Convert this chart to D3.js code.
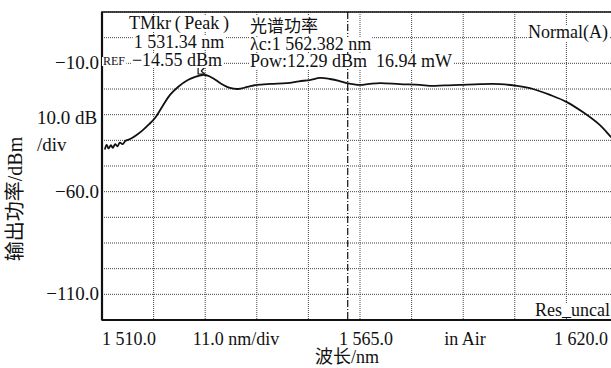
<!DOCTYPE html>
<html>
<head>
<meta charset="utf-8">
<script src="https://d3js.org/d3.v7.min.js"></script>
<style>
  body { margin: 0; background: #fff; }
  text { font-family: "Liberation Serif", "Times New Roman", serif; fill: #111; }
  .grid line { stroke: #444; stroke-width: 1; stroke-dasharray: 1,1; }
  .cjk { font-family: "Noto Sans CJK SC", sans-serif; }
</style>
</head>
<body>
<script>
// spectrum trace (wavelength nm, power dBm)
var wavelength = [1510.6, 1511.0, 1511.4, 1511.9, 1512.3, 1512.8, 1513.3, 1513.8, 1514.4, 1515.0,
  1516.0, 1517.3, 1518.7, 1520.0, 1521.3, 1522.8, 1524.5, 1526.2, 1528.3, 1530.0, 1531.34,
  1532.4, 1534.0, 1535.2, 1537.3, 1539.0, 1541.0, 1543.0, 1546.0, 1549.4, 1552.0, 1554.3,
  1556.5, 1558.6, 1560.5, 1562.2, 1565.0, 1567.0, 1569.3, 1573.5, 1577.8, 1579.9, 1583.0,
  1586.3, 1590.6, 1594.8, 1598.5, 1601.9, 1605.5, 1609.1, 1612.5, 1616.1, 1618.5, 1620.0];
var power = [-43.6, -41.8, -43.2, -41.9, -42.9, -41.5, -42.3, -40.9, -41.5, -40.2,
  -39.5, -38.0, -36.0, -33.8, -31.3, -27.0, -22.3, -19.2, -16.5, -15.2, -14.55,
  -14.7, -16.2, -17.7, -19.6, -20.0, -19.2, -18.4, -18.0, -17.7, -17.0, -16.5,
  -15.7, -16.1, -16.8, -17.7, -18.4, -18.0, -17.7, -18.1, -18.4, -18.8, -18.6,
  -18.4, -18.1, -18.1, -18.8, -20.0, -22.3, -25.1, -29.0, -34.0, -38.7, -41.5];

var xTicks = [1510, 1565, 1620];
var xTickLabels = ["1 510.0", "1 565.0", "1 620.0"];
var yTicks = [-10, -60, -100];
var yTickLabels = ["\u221210.0", "\u221260.0", "\u2212110.0"];

var peakWl = 1531.34, peakPow = -14.55, centerWl = 1562.382;

var W = 611, H = 368;
var margin = { top: 12, left: 102 };
var width = 516, height = 308;

var svg = d3.select("body").append("svg")
    .attr("width", W)
    .attr("height", H);

svg.append("rect").attr("width", W).attr("height", H).attr("fill", "#fff");

var g = svg.append("g")
    .attr("transform", "translate(" + margin.left + "," + margin.top + ")");

var x = d3.scaleLinear().domain([1510, 1620]).range([0, width]);
var y = d3.scaleLinear().domain([10, -110]).range([0, height]);

// grid
var grid = g.append("g").attr("class", "grid");
grid.selectAll(".vx")
    .data(d3.range(0, 11).map(function(i) { return 1510 + i * 11; }))
    .enter().append("line")
    .attr("x1", function(d) { return x(d); })
    .attr("x2", function(d) { return x(d); })
    .attr("y1", 0).attr("y2", height);
grid.selectAll(".hy")
    .data(d3.range(0, 13).map(function(i) { return 10 - i * 10; }))
    .enter().append("line")
    .attr("x1", 0).attr("x2", width)
    .attr("y1", function(d) { return y(d); })
    .attr("y2", function(d) { return y(d); });

// centre wavelength dash-dot line
g.append("line")
    .attr("x1", x(centerWl)).attr("x2", x(centerWl))
    .attr("y1", 0).attr("y2", height)
    .attr("stroke", "#111")
    .attr("stroke-width", 1.2)
    .attr("stroke-dasharray", "7,2,1,2");

// frame
g.append("rect")
    .attr("width", width).attr("height", height)
    .attr("fill", "none").attr("stroke", "#111").attr("stroke-width", 1.5);
g.append("line").attr("x1", 0).attr("x2", 0).attr("y1", 0).attr("y2", height)
    .attr("stroke", "#111").attr("stroke-width", 2.2);
g.append("line").attr("x1", 0).attr("x2", width).attr("y1", height).attr("y2", height)
    .attr("stroke", "#111").attr("stroke-width", 2.2);

// trace
var data = wavelength.map(function(w, i) { return { w: w, p: power[i] }; });
var line = d3.line()
    .x(function(d) { return x(d.w); })
    .y(function(d) { return y(d.p); })
    .curve(d3.curveCatmullRom);
g.append("path")
    .datum(data)
    .attr("fill", "none")
    .attr("stroke", "#111")
    .attr("stroke-width", 1.8)
    .attr("d", line);

// peak marker
var px = x(peakWl), py = y(peakPow);
g.append("path")
    .attr("d", "M" + (px - 4) + "," + (py - 9) + "V" + (py - 1) + "H" + (px + 1) +
        "M" + (px - 1) + "," + (py - 4) + "L" + (px + 6) + "," + (py - 11) +
        "M" + (px - 1) + "," + (py - 4) + "L" + (px + 5) + "," + (py + 1))
    .attr("fill", "none").attr("stroke", "#111").attr("stroke-width", 1.2);

// helper: text on a white box
function boxed(parent, tx, ty, str, anchor, size, cls) {
    var t = parent.append("text")
        .attr("x", tx).attr("y", ty)
        .attr("text-anchor", anchor || "start")
        .style("font-size", (size || 18) + "px")
        .style("white-space", "pre")
        .text(str);
    if (cls) t.attr("class", cls);
    var b = t.node().getBBox();
    parent.insert("rect", function() { return t.node(); })
        .attr("x", b.x - 1).attr("y", b.y + 3)
        .attr("width", b.width + 2).attr("height", b.height - 5)
        .attr("fill", "#fff");
    return t;
}

// marker readout
boxed(svg, 179, 29, "TMkr\u2009(\u2009Peak\u2009)", "middle", 18);
boxed(svg, 179, 48, "1 531.34 nm", "middle", 18);
boxed(svg, 177, 66, "\u221214.55 dBm", "middle", 18);
boxed(svg, 103, 65, "REF", "start", 12);

boxed(svg, 250, 32, "\u5149\u8c31\u529f\u7387", "start", 17, "cjk");
boxed(svg, 250, 50, "\u03bbc:1 562.382 nm", "start", 18);
boxed(svg, 250, 67, "Pow:12.29 dBm\u00a0\u00a016.94 mW", "start", 18);

boxed(svg, 528, 38, "Normal(A)", "start", 18);
boxed(svg, 535, 316, "Res_uncal", "start", 18);

// y tick labels
svg.selectAll(".ylab")
    .data(yTicks)
    .enter().append("text")
    .attr("class", "ylab")
    .attr("x", margin.left - 3)
    .attr("y", function(d) { return margin.top + y(d) + 6; })
    .attr("text-anchor", "end")
    .style("font-size", "19px")
    .text(function(d, i) { return yTickLabels[i]; });

svg.append("text").attr("x", 37).attr("y", margin.top + y(-30.3) + 9)
    .style("font-size", "19px").text("10.0 dB");
svg.append("text").attr("x", 37).attr("y", margin.top + y(-42) + 6)
    .style("font-size", "19px").text("/div");

// x tick labels
var anchors = ["start", "middle", "end"];
svg.selectAll(".xlab")
    .data(xTicks)
    .enter().append("text")
    .attr("class", "xlab")
    .attr("x", function(d, i) { return margin.left + x(d) + (i === 0 ? 0 : i === 1 ? 6 : -10); })
    .attr("y", 345)
    .attr("text-anchor", function(d, i) { return anchors[i]; })
    .style("font-size", "18px")
    .text(function(d, i) { return xTickLabels[i]; });

svg.append("text").attr("x", 236).attr("y", 345).attr("text-anchor", "middle")
    .style("font-size", "18px").text("11.0 nm/div");
svg.append("text").attr("x", 465).attr("y", 345).attr("text-anchor", "middle")
    .style("font-size", "18px").text("in Air");

// axis titles
svg.append("text")
    .attr("x", 347).attr("y", 363)
    .attr("text-anchor", "middle")
    .style("font-size", "18px")
    .html('<tspan class="cjk">\u6ce2\u957f</tspan>/nm');

svg.append("text")
    .attr("transform", "translate(22,199) rotate(-90)")
    .attr("text-anchor", "middle")
    .style("font-size", "20px")
    .html('<tspan class="cjk">\u8f93\u51fa\u529f\u7387</tspan>/dBm');
</script>
</body>
</html>
